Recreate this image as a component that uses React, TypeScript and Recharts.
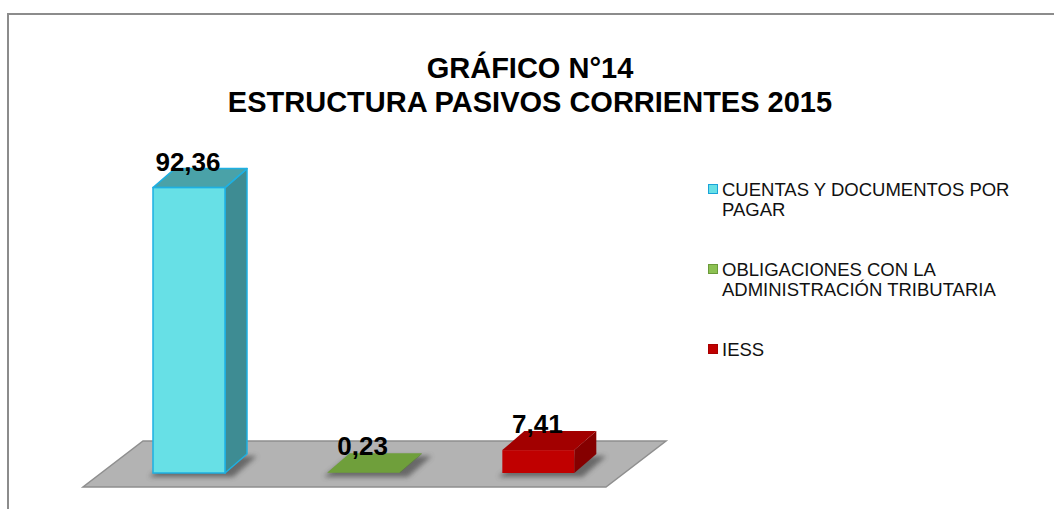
import React from 'react';
import { BarChart, Bar, XAxis, YAxis, Cell, LabelList, Legend, ReferenceArea } from 'recharts';

const categories = [
  'CUENTAS Y DOCUMENTOS POR PAGAR',
  'OBLIGACIONES CON LA ADMINISTRACIÓN TRIBUTARIA',
  'IESS',
];
const values = [92.36, 0.23, 7.41];
const yDomain = [0, 100];

const FONT = '"Liberation Sans", Arial, Helvetica, sans-serif';

// per-category colours: front / top / side faces, outline, legend swatch
const STYLES = [
  { front: '#67e0e6', top: '#4aa2a8', side: '#3e8c93', stroke: '#1eb0e2', legend: '#67e0e6', legendBorder: '#1aa3d8' },
  { front: '#6f9f3b', top: '#6f9f3b', side: '#5a8530', stroke: 'none', legend: '#8cc152', legendBorder: '#6b9a3a' },
  { front: '#c00000', top: '#a20000', side: '#850000', stroke: 'none', legend: '#c00000', legendBorder: '#a80000' },
];

const DEPTH_X = 22;
const DEPTH_Y = -19;

const data = categories.map((name, i) => ({ name, value: values[i] }));

const fmt = (v: number) => v.toFixed(2).replace('.', ',');

const Floor = (props: any) => {
  const { x, y, width, height } = props;
  const L = x;
  const R = x + width;
  const y0 = y + height;
  const pts = [
    [L - 19, y0 + 14],
    [R - 20, y0 + 14],
    [R + 40, y0 - 32],
    [L + 41, y0 - 32],
  ]
    .map((p) => p.join(','))
    .join(' ');
  return (
    <g>
      <defs>
        <filter id="barShadow" x="-20%" y="-50%" width="140%" height="200%">
          <feGaussianBlur stdDeviation="2.5" />
        </filter>
      </defs>
      <polygon points={pts} fill="#b3b3b3" stroke="#8f8f8f" strokeWidth={1.5} />
    </g>
  );
};

const Bar3D = (props: any) => {
  const { x, y, width, height, index } = props;
  if (width == null || height == null) return null;
  const s = STYLES[index % STYLES.length];
  const y0 = y + height;
  const dx = DEPTH_X;
  const dy = DEPTH_Y;
  const P = (arr: number[][]) => arr.map((p) => p.join(',')).join(' ');
  const shadow = P([
    [x - 4, y0 + 4],
    [x + width + 8, y0 + 4],
    [x + width + dx + 10, y0 + dy + 2],
    [x + dx, y0 + dy + 2],
  ]);
  const side = P([
    [x + width, y],
    [x + width + dx, y + dy],
    [x + width + dx, y0 + dy],
    [x + width, y0],
  ]);
  const top = P([
    [x, y],
    [x + width, y],
    [x + width + dx, y + dy],
    [x + dx, y + dy],
  ]);
  const sw = s.stroke === 'none' ? 0 : 1.5;
  return (
    <g>
      <polygon points={shadow} fill="#4a4a4a" opacity={0.7} filter="url(#barShadow)" />
      <polygon points={side} fill={s.side} stroke={s.stroke} strokeWidth={sw} strokeLinejoin="round" />
      <polygon points={top} fill={s.top} stroke={s.stroke} strokeWidth={sw} strokeLinejoin="round" />
      <rect x={x} y={y} width={width} height={Math.max(height, 0.5)} fill={s.front} stroke={s.stroke} strokeWidth={sw} />
    </g>
  );
};

const ValueLabel = (props: any) => {
  const vb = props.viewBox || {};
  const x = props.x ?? vb.x;
  const y = props.y ?? vb.y;
  const width = props.width ?? vb.width;
  const { value } = props;
  if (value == null || x == null) return null;
  return (
    <text
      x={x + width / 2 - 1}
      y={y - 17}
      textAnchor="middle"
      fontFamily={FONT}
      fontSize={26}
      fontWeight="bold"
      fill="#000"
    >
      {fmt(Number(value))}
    </text>
  );
};

const LegendContent = () => (
  <ul style={{ listStyle: 'none', margin: 0, padding: 0, fontFamily: FONT }}>
    {categories.map((c, i) => (
      <li key={c} style={{ display: 'flex', alignItems: 'flex-start', marginBottom: 40 }}>
        <span
          style={{
            width: 8,
            height: 8,
            marginTop: 4,
            flex: 'none',
            background: STYLES[i].legend,
            border: `1px solid ${STYLES[i].legendBorder}`,
          }}
        />
        <span style={{ marginLeft: 4, width: 300, fontSize: 18.5, lineHeight: '20px', color: '#111' }}>{c}</span>
      </li>
    ))}
  </ul>
);

export default function App() {
  return (
    <div
      style={{
        position: 'absolute',
        left: 0,
        top: 0,
        width: 1054,
        height: 509,
        overflow: 'hidden',
        background: '#fff',
        fontFamily: FONT,
      }}
    >
      <div
        style={{
          position: 'absolute',
          left: 7,
          top: 13,
          width: 1200,
          height: 700,
          borderTop: '2px solid #8c8c8c',
          borderLeft: '2px solid #8c8c8c',
        }}
      />
      <div
        style={{
          position: 'absolute',
          left: 0,
          top: 51,
          width: 1060,
          textAlign: 'center',
          fontWeight: 'bold',
          fontSize: 29,
          lineHeight: '34px',
          color: '#000',
        }}
      >
        GRÁFICO N°14
        <br />
        ESTRUCTURA PASIVOS CORRIENTES 2015
      </div>
      <div style={{ position: 'absolute', left: 0, top: 0 }}>
        <BarChart
          width={1054}
          height={509}
          data={data}
          margin={{ top: 164, right: 428, bottom: 36, left: 102 }}
        >
          <XAxis dataKey="name" hide />
          <YAxis hide domain={yDomain} />
          <ReferenceArea y1={0} y2={10} shape={Floor} ifOverflow="visible" />
          <Bar dataKey="value" barSize={72} shape={Bar3D} isAnimationActive={false}>
            {data.map((d, i) => (
              <Cell key={d.name} fill={STYLES[i].front} />
            ))}
            <LabelList dataKey="value" content={ValueLabel} />
          </Bar>
          <Legend
            layout="vertical"
            align="center"
            verticalAlign="middle"
            content={LegendContent}
            wrapperStyle={{ left: 708, top: 180, width: 340 }}
          />
        </BarChart>
      </div>
    </div>
  );
}
